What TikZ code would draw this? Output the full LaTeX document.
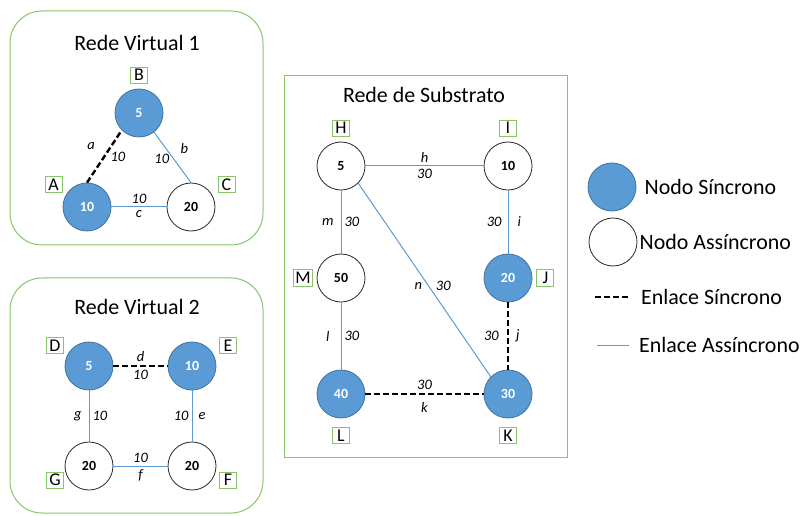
\documentclass[tikz,border=0pt]{standalone}
\usepackage{fontspec}
\setmainfont{Carlito}
\usetikzlibrary{positioning}
\definecolor{syncfill}{HTML}{5B9BD5}
\definecolor{syncdraw}{HTML}{41719C}
\definecolor{asyncline}{HTML}{5B9BD5}
\definecolor{frame}{HTML}{88C46A}

\begin{document}
\begin{tikzpicture}[x=1bp, y=-1bp, node distance=5bp,
  sn/.style={circle, fill=syncfill, draw=syncdraw, line width=0.8bp, minimum size=48bp,
             inner sep=0pt, text=white, font=\fontsize{14}{16}\selectfont\bfseries},
  an/.style={sn, fill=white, draw=black!85, text=black},
  tag/.style={draw=frame, line width=1bp, inner sep=1.5bp, minimum height=16bp,
              minimum width=17bp, font=\fontsize{18}{20}\selectfont},
  title/.style={font=\fontsize{22}{24}\selectfont},
  lg/.style={font=\fontsize{22}{24}\selectfont, inner sep=1bp, anchor=west},
  net/.style={draw=frame, line width=1bp, rounded corners=32bp},
  sl/.style={draw=black, line width=2.4bp, dash pattern=on 6bp off 3bp},
  al/.style={draw=asyncline, line width=1bp},
  el/.style={font=\fontsize{14.5}{16}\selectfont\itshape, inner sep=3bp}]
  \useasboundingbox (0,0) rectangle (801,516);

  % virtual network 1
  \draw[net] (10,11) rectangle (263,245);
  \node[title] (t1) at (137,43) {Rede Virtual 1};
  \node[sn] (b) at (139,113) {5};
  \node[sn] (a) at (87,207) {10};
  \node[an] (c) at (191,207) {20};
  \node[tag, above=of b] (tb) {B};
  \node[tag] (ta) at (53.5,185) {A};
  \node[tag] (tc) at (226.5,185) {C};
  \draw[sl] (a.north) -- node[el, pos=0.69, left=12bp] {a} node[el, pos=0.5, right=2bp] {10} (b.225);
  \draw[al] (b.-52) -- node[el, pos=0.53, left=1bp] {10} node[el, pos=0.33, right=11bp] {b} (c.north);
  \draw[al] (a) -- node[el, above] {10} node[el, below] {c} (c);

  % virtual network 2
  \draw[net] (10,278) rectangle (263,513);
  \node[title] (t2) at (137,307) {Rede Virtual 2};
  \node[sn] (d) at (89,366) {5};
  \node[sn] (e) at (192,366) {10};
  \node[an] (g) at (89,466) {20};
  \node[an] (f) at (192,466) {20};
  \node[tag] (td) at (55,345.5) {D};
  \node[tag] (te) at (228,345.5) {E};
  \node[tag] (tg) at (55,480) {G};
  \node[tag] (tf) at (228,480) {F};
  \draw[sl] (d) -- node[el, above] {d} node[el, below] {10} (e);
  \draw[al] (d) -- node[el, left=4bp] {g} node[el, right=0bp] {10} (g);
  \draw[al] (e) -- node[el, left=0bp] {10} node[el, right=3bp] {e} (f);
  \draw[al] (g) -- node[el, above] {10} node[el, below] {f} (f);

  % substrate network
  \draw[draw=frame, line width=1bp] (284,76) rectangle (567,457);
  \node[title] (t3) at (424,95) {Rede de Substrato};
  \node[an] (h) at (341,166) {5};
  \node[an] (i) at (508,166) {10};
  \node[an] (m) at (341,278) {50};
  \node[sn] (j) at (508,278) {20};
  \node[sn] (l) at (341,394) {40};
  \node[sn] (k) at (508,394) {30};
  \node[tag, above=of h] (th) {H};
  \node[tag, above=of i] (ti) {I};
  \node[tag, left=4bp of m] (tm) {M};
  \node[tag, right=4bp of j] (tj) {J};
  \node[tag, below=9bp of l] (tl) {L};
  \node[tag, below=9bp of k] (tk) {K};
  \draw[al] (h) -- node[el, above] {h} node[el, below] {30} (i);
  \draw[al] (h) -- node[el, left=4bp] {m} node[el, right=0bp] {30} (m);
  \draw[al] (i) -- node[el, left=3bp] {30} node[el, right=6bp] {i} (j);
  \draw[al] (m) -- node[el, left=8bp] {l} node[el, right=0bp] {30} (l);
  \draw[sl] (j) -- node[el, left=5bp] {30} node[el, right=4bp] {j} (k);
  \draw[sl] (l) -- node[el, above] {30} node[el, below=4bp] {k} (k);
  \draw[al] (h.-45) -- node[el, pos=0.53, left=3bp] {n} node[el, pos=0.53, right=4bp] {30} (k.135);

  % legend
  \node[sn] (ls) at (612,187) {};
  \node[lg, right=7bp of ls] (lst) {Nodo Síncrono};
  \node[an] (la) at (613,242) {};
  \node[lg, right=1bp of la] (lat) {Nodo Assíncrono};
  \coordinate (ds1) at (595,297);
  \coordinate (ds2) at (631,297);
  \draw[sl] (ds1) -- (ds2);
  \node[lg, right=9bp of ds2] (dst) {Enlace Síncrono};
  \coordinate (as1) at (597,345);
  \coordinate (as2) at (629,345);
  \draw[al] (as1) -- (as2);
  \node[lg, right=9bp of as2] (ast) {Enlace Assíncrono};
\end{tikzpicture}
\end{document}
